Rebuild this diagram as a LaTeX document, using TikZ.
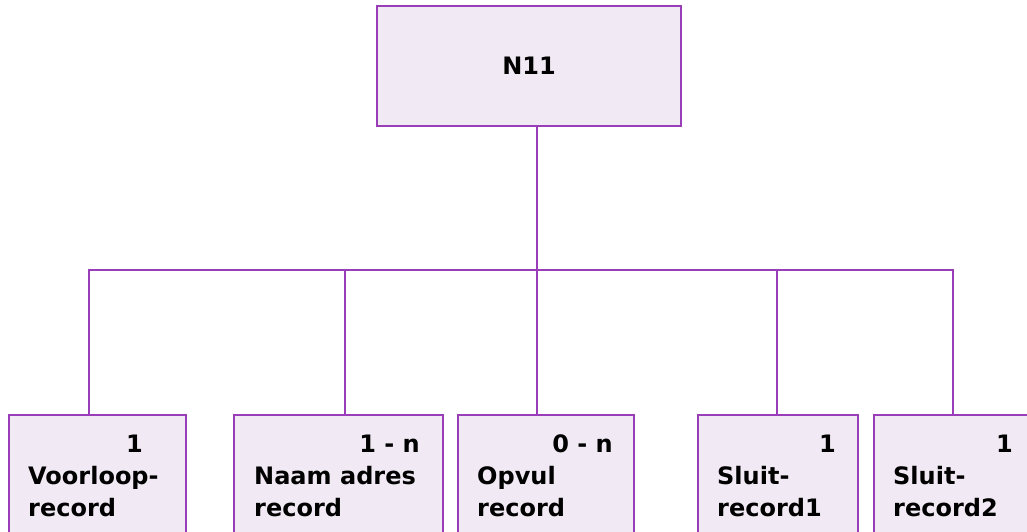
\documentclass[tikz,border=0pt]{standalone}
\usepackage{fontspec}
\setmainfont{DejaVu Sans}
\definecolor{boxline}{HTML}{9A3DB8}
\definecolor{boxfill}{HTML}{F1E9F3}
\tikzset{
  x=1pt, y=-1pt,
  box/.style={draw=boxline, fill=boxfill, line width=2.4pt, rectangle, inner sep=0pt},
  bbox/.style={box, anchor=north west, minimum height=150pt},
  lbl/.style={font=\bfseries\fontsize{24}{29}\selectfont, inner sep=0pt, anchor=base west},
  num/.style={font=\bfseries\fontsize{24}{29}\selectfont, inner sep=0pt, anchor=base east},
  conn/.style={draw=boxline, line width=2pt}
}
\begin{document}
\begin{tikzpicture}
\useasboundingbox (0,0) rectangle (1027,532);
\clip (0,0) rectangle (1027,532);
% top box
\node[box, minimum width=304pt, minimum height=120pt, font=\bfseries\fontsize{24}{29}\selectfont] (top) at (529,66) {N11};
% bottom boxes
\node[bbox, minimum width=177pt] (v) at (8,414) {};
\node[bbox, minimum width=209pt] (n) at (233,414) {};
\node[bbox, minimum width=176pt] (o) at (457,414) {};
\node[bbox, minimum width=160pt] (s1) at (697,414) {};
\node[bbox, minimum width=175pt] (s2) at (873,414) {};
% bus coordinates
\coordinate (b1) at (89,270);
\coordinate (b2) at (345,270);
\coordinate (b3) at (537,270);
\coordinate (b4) at (777,270);
\coordinate (b5) at (953,270);
\draw[conn] (b3 |- top.south) -- (b3);
\draw[conn] (b1 |- v.north) -- (b1) -- (b5) -- (b5 |- s2.north);
\draw[conn] (b2) -- (b2 |- n.north);
\draw[conn] (b3) -- (b3 |- o.north);
\draw[conn] (b4) -- (b4 |- s1.north);
% texts
\node[num] at (143,452) {1};
\node[lbl] at (28,484) {Voorloop-};
\node[lbl] at (28,516) {record};
\node[num] at (420,452) {1 - n};
\node[lbl] at (254,484) {Naam adres};
\node[lbl] at (254,516) {record};
\node[num] at (613,452) {0 - n};
\node[lbl] at (477,484) {Opvul};
\node[lbl] at (477,516) {record};
\node[num] at (836,452) {1};
\node[lbl] at (717,484) {Sluit-};
\node[lbl] at (717,516) {record1};
\node[num] at (1013,452) {1};
\node[lbl] at (893,484) {Sluit-};
\node[lbl] at (893,516) {record2};
\end{tikzpicture}
\end{document}
